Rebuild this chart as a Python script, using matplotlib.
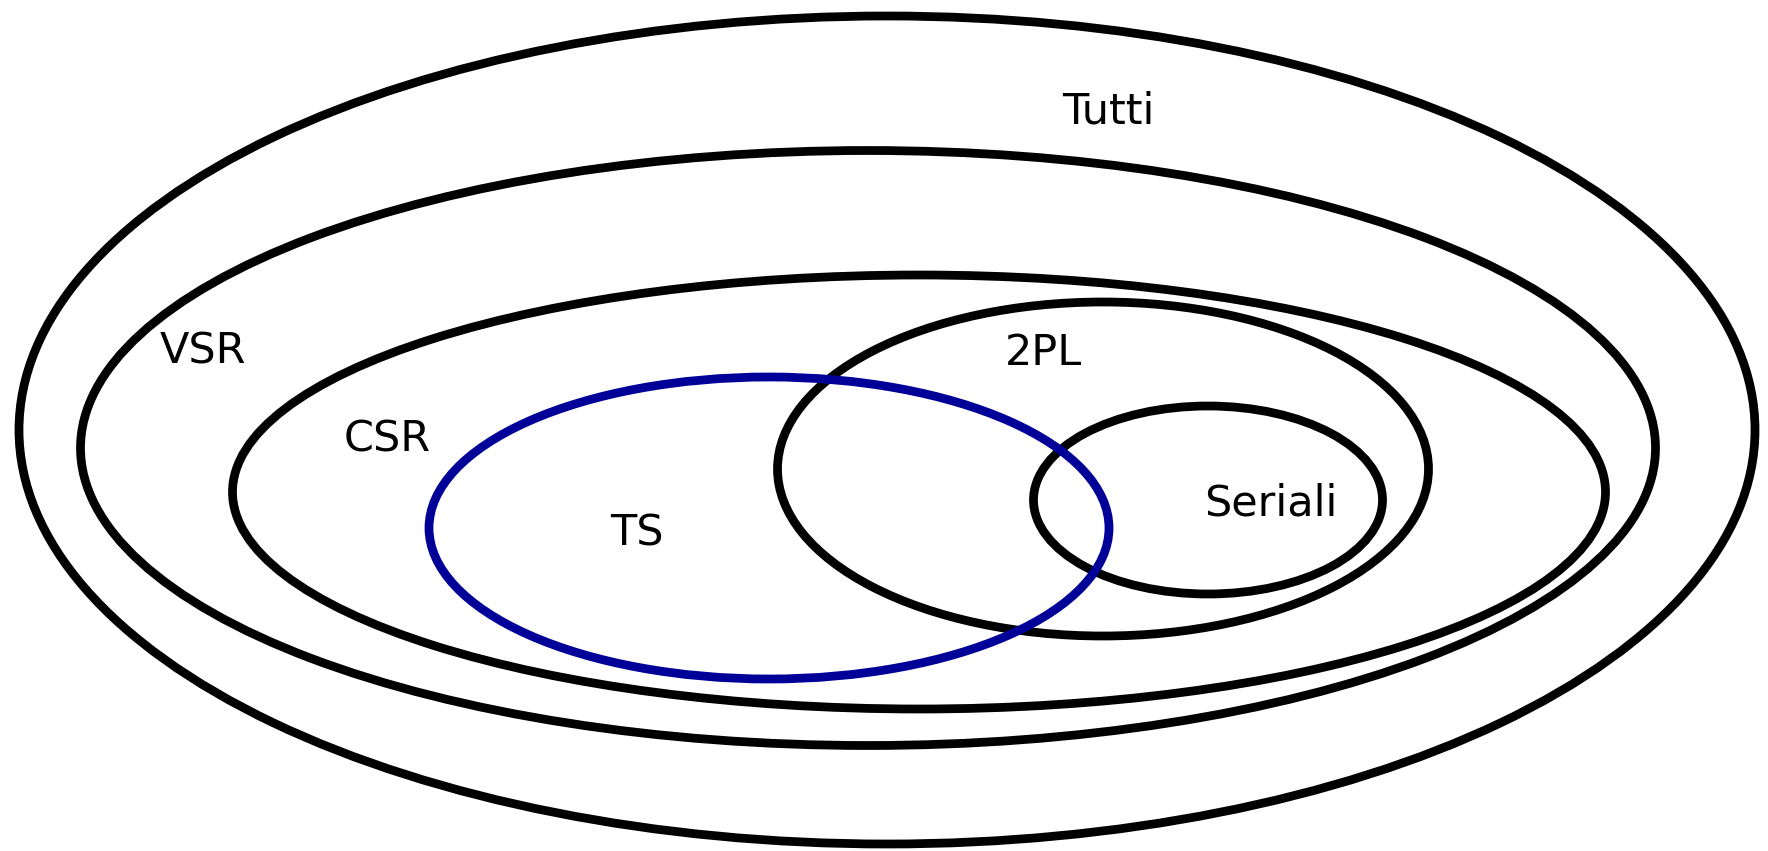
import matplotlib
matplotlib.use("Agg")
import matplotlib.pyplot as plt
from matplotlib.patches import Ellipse

# insiemi di schedule (coordinate in pixel dell'immagine 1768x851)
names = ["Tutti", "VSR", "CSR", "2PL", "Seriali", "TS"]
center_x = [887, 868, 919, 1103, 1208, 769]
center_y = [430, 448, 492, 469, 500, 528]
widths = [1736, 1575, 1373, 651, 349, 680]
heights = [828, 595, 434, 334, 188, 302]
colors = ["black", "black", "black", "black", "black", "#000099"]

label_x = [1108, 203, 387, 1043, 1271, 637]
label_y = [111, 352, 440, 353, 504, 534]

W, H = 1768, 851

fig = plt.figure(figsize=(W / 100, H / 100), dpi=100)
ax = fig.add_axes([0, 0, 1, 1])
ax.set_xlim(0, W)
ax.set_ylim(H, 0)
ax.set_aspect("auto")
ax.axis("off")

for cx, cy, w, h, c in zip(center_x, center_y, widths, heights, colors):
    ax.add_patch(Ellipse((cx, cy), w, h, fill=False, edgecolor=c, linewidth=6.3))

for name, lx, ly in zip(names, label_x, label_y):
    ax.text(lx, ly, name, fontsize=31, ha="center", va="center", color="black")

fig.savefig("out.png", dpi=100, facecolor="white")
